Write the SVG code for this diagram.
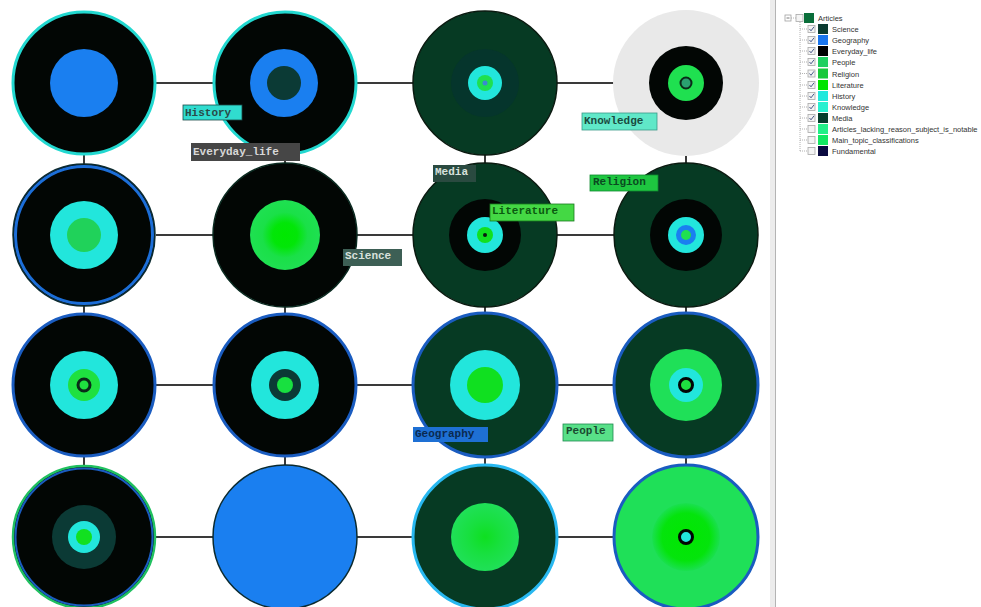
<svg xmlns="http://www.w3.org/2000/svg" width="981" height="607" viewBox="0 0 981 607">
<defs>
<style>
.edge{stroke:#3a3a3a;stroke-width:2;fill:none}
.lbl{font-family:"Liberation Mono","Courier New",monospace;font-size:11px;font-weight:bold}
.lgt{font-family:"Liberation Sans",Arial,sans-serif;font-size:7.5px;fill:#333}
.cb{fill:#f4f4f4;stroke:#a8a8a8;stroke-width:0.8}
.ck{fill:none;stroke:#4a5a8a;stroke-width:1}
.tree{stroke:#a0a0a0;stroke-width:0.8;stroke-dasharray:1 1;fill:none}
</style>
<radialGradient id="gBright" cx="50%" cy="50%" r="50%">
<stop offset="0" stop-color="#00e800"/><stop offset="0.35" stop-color="#02e608"/><stop offset="0.65" stop-color="#1ae048"/><stop offset="1" stop-color="#1fe052"/>
</radialGradient>
<radialGradient id="gSoft" cx="50%" cy="50%" r="50%">
<stop offset="0" stop-color="#0ee020"/><stop offset="0.5" stop-color="#18e040"/><stop offset="1" stop-color="#20e058"/>
</radialGradient>
<radialGradient id="gBig" cx="50%" cy="50%" r="50%">
<stop offset="0" stop-color="#00e800"/><stop offset="0.7" stop-color="#04e40c"/><stop offset="1" stop-color="#1ae050"/>
</radialGradient>
</defs>
<rect width="981" height="607" fill="#ffffff"/>

<g id="connectors">
<line class="edge" x1="156" y1="83" x2="214" y2="83"/>
<line class="edge" x1="357" y1="83" x2="413" y2="83"/>
<line class="edge" x1="557" y1="83" x2="614" y2="83"/>
<line class="edge" x1="156" y1="235" x2="214" y2="235"/>
<line class="edge" x1="357" y1="235" x2="413" y2="235"/>
<line class="edge" x1="557" y1="235" x2="614" y2="235"/>
<line class="edge" x1="156" y1="385" x2="214" y2="385"/>
<line class="edge" x1="357" y1="385" x2="413" y2="385"/>
<line class="edge" x1="557" y1="385" x2="614" y2="385"/>
<line class="edge" x1="156" y1="537" x2="214" y2="537"/>
<line class="edge" x1="357" y1="537" x2="413" y2="537"/>
<line class="edge" x1="557" y1="537" x2="614" y2="537"/>
<line class="edge" x1="84" y1="150" x2="84" y2="166"/>
<line class="edge" x1="285" y1="150" x2="285" y2="166"/>
<line class="edge" x1="485" y1="150" x2="485" y2="166"/>
<line class="edge" x1="686" y1="150" x2="686" y2="166"/>
<line class="edge" x1="84" y1="302" x2="84" y2="316"/>
<line class="edge" x1="285" y1="302" x2="285" y2="316"/>
<line class="edge" x1="485" y1="302" x2="485" y2="316"/>
<line class="edge" x1="686" y1="302" x2="686" y2="316"/>
<line class="edge" x1="84" y1="452" x2="84" y2="468"/>
<line class="edge" x1="285" y1="452" x2="285" y2="468"/>
<line class="edge" x1="485" y1="452" x2="485" y2="468"/>
<line class="edge" x1="686" y1="452" x2="686" y2="468"/>
</g>

<g id="n11">
<circle cx="84" cy="83" r="71" fill="#020604" stroke="#22d8d0" stroke-width="3"/>
<circle cx="84" cy="83" r="34" fill="#1a7ff0"/>
</g>
<g id="n12">
<circle cx="285" cy="83" r="71" fill="#020604" stroke="#22d8d0" stroke-width="3"/>
<circle cx="284" cy="83" r="34" fill="#1a7ff0"/>
<circle cx="284" cy="83" r="17" fill="#0b3a35"/>
</g>
<g id="n13">
<circle cx="485" cy="83" r="72" fill="#063a23" stroke="#0a1a10" stroke-width="1.5"/>
<circle cx="485" cy="83" r="34" fill="#05352c"/>
<circle cx="485" cy="83" r="17" fill="#22e6dc"/>
<circle cx="485" cy="83" r="8" fill="#1fe050"/>
<circle cx="485" cy="83" r="2.5" fill="#3a8ad0"/>
</g>
<g id="n14">
<circle cx="686" cy="83" r="73" fill="#e9e9e9"/>
<circle cx="686" cy="83" r="37" fill="#020604"/>
<circle cx="686" cy="83" r="18" fill="#1fe050"/>
<circle cx="686" cy="83" r="5.5" fill="#2aa070" stroke="#0a2a18" stroke-width="2"/>
</g>

<g id="n21">
<circle cx="84" cy="235" r="71" fill="#020604" stroke="#0a2a30" stroke-width="1.5"/>
<circle cx="84" cy="235" r="68.5" fill="none" stroke="#1c6ed8" stroke-width="3"/>
<circle cx="84" cy="235" r="34" fill="#22e6dc"/>
<circle cx="84" cy="235" r="17" fill="#20d25a"/>
</g>
<g id="n22">
<circle cx="285" cy="235" r="72" fill="#020604" stroke="#0a2a20" stroke-width="1.5"/>
<circle cx="285" cy="235" r="35" fill="url(#gBright)"/>
</g>
<g id="n23">
<circle cx="485" cy="235" r="72" fill="#063a23" stroke="#0a1a10" stroke-width="1.5"/>
<circle cx="485" cy="235" r="36" fill="#020604"/>
<circle cx="485" cy="235" r="18" fill="#22e6dc"/>
<circle cx="485" cy="235" r="8" fill="#12e020"/>
<circle cx="485" cy="235" r="2" fill="#0a1a10"/>
</g>
<g id="n24">
<circle cx="686" cy="235" r="72" fill="#063a23" stroke="#0a1a10" stroke-width="1.5"/>
<circle cx="686" cy="235" r="36" fill="#020604"/>
<circle cx="686" cy="235" r="18" fill="#22e6dc"/>
<circle cx="686" cy="235" r="10" fill="#1a7ff0"/>
<circle cx="686" cy="235" r="5" fill="#1fe050"/>
</g>

<g id="n31">
<circle cx="84" cy="385" r="71" fill="#020604" stroke="#1a5cc0" stroke-width="3"/>
<circle cx="84" cy="385" r="34" fill="#22e6dc"/>
<circle cx="84" cy="385" r="16" fill="#1fe040"/>
<circle cx="84" cy="385" r="6" fill="#1fe040" stroke="#0a2a18" stroke-width="3"/>
</g>
<g id="n32">
<circle cx="285" cy="385" r="71" fill="#020604" stroke="#1a5cc0" stroke-width="3"/>
<circle cx="285" cy="385" r="34" fill="#22e6dc"/>
<circle cx="285" cy="385" r="16" fill="#0b3a35"/>
<circle cx="285" cy="385" r="8" fill="#18e040"/>
</g>
<g id="n33">
<circle cx="485" cy="385" r="72" fill="#063a23" stroke="#1a5cc0" stroke-width="3"/>
<circle cx="485" cy="385" r="35" fill="#22e6dc"/>
<circle cx="485" cy="385" r="18" fill="#10e020"/>
</g>
<g id="n34">
<circle cx="686" cy="385" r="72" fill="#063a23" stroke="#1a5cc0" stroke-width="3"/>
<circle cx="686" cy="385" r="36" fill="#1fe058"/>
<circle cx="686" cy="385" r="17" fill="#22e6dc"/>
<circle cx="686" cy="385" r="6.5" fill="#1fe040" stroke="#020604" stroke-width="3"/>
</g>

<g id="n41">
<circle cx="84" cy="537" r="71" fill="#020604" stroke="#20c060" stroke-width="2.5"/>
<circle cx="84" cy="537" r="68.5" fill="none" stroke="#1a5cc0" stroke-width="2"/>
<circle cx="84" cy="537" r="32" fill="#0b3a35"/>
<circle cx="84" cy="537" r="16" fill="#22e6dc"/>
<circle cx="84" cy="537" r="8" fill="#12e020"/>
</g>
<g id="n42">
<circle cx="285" cy="537" r="72" fill="#1a7ff0" stroke="#0a2a30" stroke-width="1.5"/>
</g>
<g id="n43">
<circle cx="485" cy="537" r="72" fill="#063a23" stroke="#28b8f0" stroke-width="3"/>
<circle cx="485" cy="537" r="34" fill="url(#gSoft)"/>
</g>
<g id="n44">
<circle cx="686" cy="537" r="72" fill="#1fe058" stroke="#1a5cc0" stroke-width="3"/>
<circle cx="686" cy="537" r="34" fill="url(#gBig)"/>
<circle cx="686" cy="537" r="6.5" fill="#22e6dc" stroke="#020604" stroke-width="3"/>
</g>

<g id="labels">
<rect x="183" y="105" width="59" height="15" fill="#30dccf" stroke="#1a4a48" stroke-width="0.8"/>
<text class="lbl" x="185" y="116" fill="#2a4a48">History</text>
<rect x="191" y="143" width="109" height="18" fill="#464646"/>
<text class="lbl" x="193" y="155" fill="#d8d8d8">Everyday_life</text>
<rect x="582" y="113" width="75" height="17" fill="#60e8c8" stroke="#3a9a88" stroke-width="0.8"/>
<text class="lbl" x="584" y="124" fill="#1a4a40">Knowledge</text>
<rect x="433" y="165" width="43" height="17" fill="#2a4a40"/>
<text class="lbl" x="435" y="175" fill="#d8e0dc">Media</text>
<rect x="590" y="175" width="68" height="16" fill="#1ec640" stroke="#108a30" stroke-width="0.8"/>
<text class="lbl" x="593" y="185" fill="#0a4a20">Religion</text>
<rect x="490" y="204" width="84" height="17" fill="#44d844" stroke="#1a7a20" stroke-width="0.8"/>
<text class="lbl" x="492" y="214" fill="#0a5a10">Literature</text>
<rect x="343" y="249" width="59" height="17" fill="#3d5f55"/>
<text class="lbl" x="345" y="259" fill="#d8e0dc">Science</text>
<rect x="413" y="427" width="75" height="15" fill="#1e70d4"/>
<text class="lbl" x="415" y="437" fill="#0a2a50">Geography</text>
<rect x="563" y="424" width="50" height="17" fill="#58e088" stroke="#208a50" stroke-width="0.8"/>
<text class="lbl" x="566" y="434" fill="#1a4a30">People</text>
</g>

<g id="panel">
<rect x="770" y="0" width="6" height="607" fill="#ececec"/>
<line x1="775.5" y1="0" x2="775.5" y2="607" stroke="#b4b4b4" stroke-width="1"/>
</g>

<g id="legend">
<path class="tree" d="M791 18 H797 M800 22 V151 M800 29 H808 M800 40 H808 M800 51 H808 M800 62 H808 M800 73.5 H808 M800 85 H808 M800 96 H808 M800 107 H808 M800 118 H808 M800 129 H808 M800 140 H808 M800 151 H808"/>
<rect x="785" y="15" width="6" height="6" fill="#fff" stroke="#a0a0a0" stroke-width="0.8"/>
<line x1="786.5" y1="18" x2="789.5" y2="18" stroke="#555" stroke-width="0.8"/>
<rect class="cb" x="796" y="14.5" width="7" height="7"/>
<rect x="804" y="13" width="10" height="10" fill="#0a6e3a"/>
<text class="lgt" x="818" y="21">Articles</text>

<rect class="cb" x="808" y="25.5" width="7" height="7"/><path class="ck" d="M809.5 29 l1.5 1.8 l3-4"/>
<rect x="818" y="24" width="10" height="10" fill="#0b3b30"/>
<text class="lgt" x="832" y="32">Science</text>

<rect class="cb" x="808" y="36.5" width="7" height="7"/><path class="ck" d="M809.5 40 l1.5 1.8 l3-4"/>
<rect x="818" y="35" width="10" height="10" fill="#1a75ee"/>
<text class="lgt" x="832" y="43">Geography</text>

<rect class="cb" x="808" y="47.5" width="7" height="7"/><path class="ck" d="M809.5 51 l1.5 1.8 l3-4"/>
<rect x="818" y="46" width="10" height="10" fill="#000000"/>
<text class="lgt" x="832" y="54">Everyday_life</text>

<rect class="cb" x="808" y="58.5" width="7" height="7"/><path class="ck" d="M809.5 62 l1.5 1.8 l3-4"/>
<rect x="818" y="57" width="10" height="10" fill="#20d060"/>
<text class="lgt" x="832" y="65">People</text>

<rect class="cb" x="808" y="70" width="7" height="7"/><path class="ck" d="M809.5 73.5 l1.5 1.8 l3-4"/>
<rect x="818" y="68.5" width="10" height="10" fill="#19c83c"/>
<text class="lgt" x="832" y="76.5">Religion</text>

<rect class="cb" x="808" y="81.5" width="7" height="7"/><path class="ck" d="M809.5 85 l1.5 1.8 l3-4"/>
<rect x="818" y="80" width="10" height="10" fill="#00e400"/>
<text class="lgt" x="832" y="88">Literature</text>

<rect class="cb" x="808" y="92.5" width="7" height="7"/><path class="ck" d="M809.5 96 l1.5 1.8 l3-4"/>
<rect x="818" y="91" width="10" height="10" fill="#22e8dc"/>
<text class="lgt" x="832" y="99">History</text>

<rect class="cb" x="808" y="103.5" width="7" height="7"/><path class="ck" d="M809.5 107 l1.5 1.8 l3-4"/>
<rect x="818" y="102" width="10" height="10" fill="#28f0d0"/>
<text class="lgt" x="832" y="110">Knowledge</text>

<rect class="cb" x="808" y="114.5" width="7" height="7"/><path class="ck" d="M809.5 118 l1.5 1.8 l3-4"/>
<rect x="818" y="113" width="10" height="10" fill="#063d2c"/>
<text class="lgt" x="832" y="121">Media</text>

<rect class="cb" x="808" y="125.5" width="7" height="7"/>
<rect x="818" y="124" width="10" height="10" fill="#22f088"/>
<text class="lgt" x="832" y="132">Articles_lacking_reason_subject_is_notable</text>

<rect class="cb" x="808" y="136.5" width="7" height="7"/>
<rect x="818" y="135" width="10" height="10" fill="#12e862"/>
<text class="lgt" x="832" y="143">Main_topic_classifications</text>

<rect class="cb" x="808" y="147.5" width="7" height="7"/>
<rect x="818" y="146" width="10" height="10" fill="#0a0a40"/>
<text class="lgt" x="832" y="154">Fundamental</text>
</g>
</svg>
